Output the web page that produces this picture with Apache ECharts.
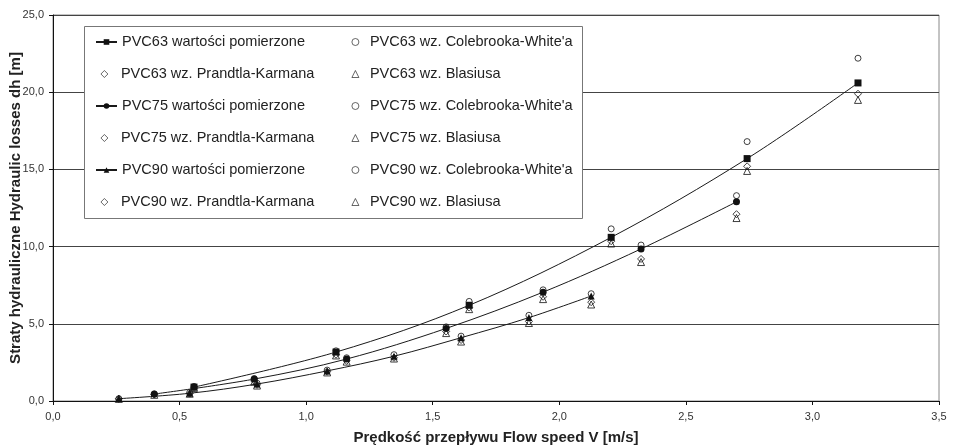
<!DOCTYPE html>
<html>
<head>
<meta charset="utf-8">
<script src="https://cdn.jsdelivr.net/npm/echarts@6/dist/echarts.min.js"></script>
<style>html,body{margin:0;padding:0;background:#fff}#c{width:954px;height:447px}</style>
</head>
<body>
<div id="c"></div>
<script>
// ---- data ----
const v63   = [0.557, 1.118, 1.644, 2.205, 2.742, 3.18];
const meas63 = [0.9, 3.17, 6.2, 10.6, 15.7, 20.6];
const cw63   = [0.95, 3.25, 6.45, 11.15, 16.8, 22.2];
const pk63   = [0.85, 3.0, 6.05, 10.35, 15.2, 19.9];
const bl63   = [0.85, 2.95, 5.95, 10.2, 14.9, 19.5];

const v75    = [0.40, 0.795, 1.16, 1.553, 1.936, 2.323, 2.70];
const meas75 = [0.45, 1.42, 2.72, 4.7, 7.05, 9.85, 12.9];
const cw75   = [0.45, 1.45, 2.8, 4.8, 7.2, 10.1, 13.3];
const pk75   = [0.42, 1.3, 2.6, 4.5, 6.75, 9.2, 12.1];
const bl75   = [0.4, 1.25, 2.55, 4.4, 6.6, 9.0, 11.85];

const v90    = [0.26, 0.54, 0.806, 1.083, 1.347, 1.612, 1.88, 2.126];
const meas90 = [0.15, 0.5, 1.1, 1.95, 2.9, 4.1, 5.4, 6.8];
const cw90   = [0.15, 0.55, 1.15, 2.0, 3.0, 4.2, 5.55, 6.95];
const pk90   = [0.14, 0.48, 1.05, 1.9, 2.8, 3.95, 5.15, 6.4];
const bl90   = [0.14, 0.47, 1.0, 1.85, 2.75, 3.85, 5.05, 6.25];

const names = {
  m63: 'PVC63 wartości pomierzone', c63: 'PVC63 wz. Colebrooka-White\'a', p63: 'PVC63 wz. Prandtla-Karmana', b63: 'PVC63 wz. Blasiusa',
  m75: 'PVC75 wartości pomierzone', c75: 'PVC75 wz. Colebrooka-White\'a', p75: 'PVC75 wz. Prandtla-Karmana', b75: 'PVC75 wz. Blasiusa',
  m90: 'PVC90 wartości pomierzone', c90: 'PVC90 wz. Colebrooka-White\'a', p90: 'PVC90 wz. Prandtla-Karmana', b90: 'PVC90 wz. Blasiusa'
};
const xTitle = 'Prędkość przepływu Flow speed V [m/s]';
const yTitle = 'Straty hydrauliczne Hydraulic losses dh [m]';

const pts = (xs, ys) => xs.map((x, i) => [x, ys[i]]);
const fmt = v => v.toFixed(1).replace('.', ',');
const FONT = 'Liberation Sans, Arial, sans-serif';

function measured(name, xs, ys, symbol, size) {
  return { name, type: 'line', data: pts(xs, ys), smooth: 0.35, symbol, symbolSize: size,
    showAllSymbol: true, z: 2,
    lineStyle: { color: '#1a1a1a', width: 1 },
    itemStyle: { color: '#111', borderWidth: 0 } };
}
function hollow(name, xs, ys, symbol, size) {
  return { name, type: 'scatter', data: pts(xs, ys), symbol, symbolSize: size, z: 3,
    itemStyle: { color: 'rgba(0,0,0,0)', borderColor: '#111', borderWidth: 1 } };
}

const series = [
  measured(names.m63, v63, meas63, 'rect', 7),
  hollow(names.c63, v63, cw63, 'circle', 6),
  hollow(names.p63, v63, pk63, 'diamond', 7),
  hollow(names.b63, v63, bl63, 'triangle', 7),
  measured(names.m75, v75, meas75, 'circle', 7),
  hollow(names.c75, v75, cw75, 'circle', 6),
  hollow(names.p75, v75, pk75, 'diamond', 7),
  hollow(names.b75, v75, bl75, 'triangle', 7),
  measured(names.m90, v90, meas90, 'triangle', 7),
  hollow(names.c90, v90, cw90, 'circle', 6),
  hollow(names.p90, v90, pk90, 'diamond', 7),
  hollow(names.b90, v90, bl90, 'triangle', 7)
];

function legend(left, top, itemWidth, itemHeight, padLeft, data, hollowIcon) {
  const l = {
    orient: 'vertical', left, top, itemWidth, itemHeight, itemGap: 48,
    selectedMode: false, data, z: 6,
    textStyle: { fontFamily: FONT, fontSize: 14.5, color: '#222', lineHeight: 16, padding: [0, 0, 0, padLeft] }
  };
  if (hollowIcon) l.itemStyle = { color: 'rgba(0,0,0,0)', borderColor: '#111', borderWidth: 0.8 };
  return l;
}

const chart = echarts.init(document.getElementById('c'), null, { renderer: 'canvas' });
chart.setOption({
  animation: false,
  backgroundColor: '#fff',
  grid: { left: 53, right: 15, top: 15, bottom: 46, show: true, borderColor: '#888', borderWidth: 1,
          containLabel: false, outerBoundsMode: 'none' },
  legend: [
    legend(90, 29, 21, 7, 0, [names.m63, names.m75, names.m90], false),
    legend(95.5, 61, 7, 7, 8, [names.p63, names.p75, names.p90], true),
    legend(346.5, 29, 7, 7, 6, [names.c63, names.c75, names.c90], true),
    legend(346.5, 61, 7, 7, 6, [names.b63, names.b75, names.b90], true)
  ],
  graphic: [{ type: 'rect', left: 84, top: 26, z: 5, shape: { width: 498, height: 192 },
    style: { fill: '#fff', stroke: '#777', lineWidth: 1 } }],
  xAxis: {
    type: 'value', min: 0, max: 3.5, interval: 0.5,
    name: xTitle, nameLocation: 'middle', nameGap: 29, nameMoveOverlap: false,
    nameTextStyle: { fontFamily: FONT, fontSize: 15, fontWeight: 'bold', color: '#222' },
    axisLine: { onZero: false, lineStyle: { color: '#111', width: 1 } },
    axisTick: { show: true, inside: false, length: 4, lineStyle: { color: '#111' } },
    axisLabel: { formatter: fmt, fontFamily: FONT, fontSize: 11, color: '#333', margin: 10 },
    splitLine: { show: false }
  },
  yAxis: {
    type: 'value', min: 0, max: 25, interval: 5,
    name: yTitle, nameLocation: 'middle', nameGap: 30, nameMoveOverlap: false,
    nameTextStyle: { fontFamily: FONT, fontSize: 15, fontWeight: 'bold', color: '#222' },
    axisLine: { show: true, lineStyle: { color: '#111', width: 1 } },
    axisTick: { show: true, inside: false, length: 4, lineStyle: { color: '#111' } },
    axisLabel: { formatter: fmt, fontFamily: FONT, fontSize: 11, color: '#333', margin: 9 },
    splitLine: { show: true, lineStyle: { color: '#444', width: 1 } }
  },
  series
});
</script>
</body>
</html>
